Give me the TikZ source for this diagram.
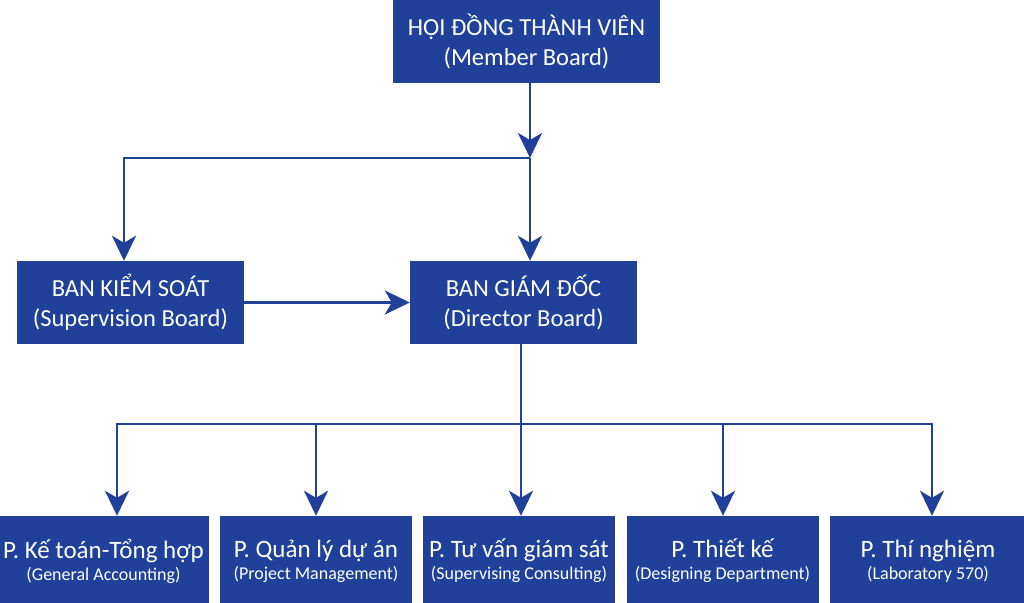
\documentclass[tikz,border=0pt]{standalone}
\usepackage{fontspec}
\setmainfont{Carlito}
\usetikzlibrary{arrows.meta}
\definecolor{boardblue}{RGB}{33,64,154}
\newcommand{\deptname}[1]{{\fontsize{25}{25}\selectfont #1}}

\begin{document}
\begin{tikzpicture}[x=1pt,y=-1pt,>={Stealth[length=25pt,width=24pt,inset=7pt]},
    board/.style={fill=boardblue,text=white,align=center,inner sep=0pt,minimum height=83pt,
      font=\fontsize{24.5}{30}\selectfont},
    dept/.style={fill=boardblue,text=white,align=center,inner sep=0pt,minimum height=90pt,
      minimum width=192pt,font=\fontsize{18}{22}\selectfont},
    conn/.style={draw=boardblue,line width=2.8pt}]
            \useasboundingbox (0,0) rectangle (1024,602);

            \node[board, minimum width=267pt] (hdtv) at (526.5,41.5) {HỘI ĐỒNG THÀNH VIÊN\\(Member Board)};
            \node[board, minimum width=227pt] (bks)  at (130.5,302.5) {BAN KIỂM SOÁT\\(Supervision Board)};
            \node[board, minimum width=227pt] (bgd)  at (523.5,302.5) {BAN GIÁM ĐỐC\\(Director Board)};

            \node[dept, minimum width=211pt] (ketoan)    at (103.5,561) {\deptname{P. Kế toán-Tổng hợp}\\(General Accounting)};
            \node[dept]                      (quanly)    at (316,561)   {\deptname{P. Quản lý dự án}\\(Project Management)};
            \node[dept]                      (tuvan)     at (519,561)   {\deptname{P. Tư vấn giám sát}\\(Supervising Consulting)};
            \node[dept]                      (thietke)   at (722.5,561) {\deptname{P. Thiết kế}\\(Designing Department)};
            \node[dept, minimum width=196pt] (thinghiem) at (928,561)   {\deptname{P. Thí nghiệm}\\(Laboratory 570)};

            \coordinate (split) at (530,158);
            \coordinate (fork)  at (521,424);

            \draw[conn,->] (hdtv.south -| split) -- (split);
            \draw[conn,->] (split) -| ([xshift=-6.5pt]bks.north);
            \draw[conn,->] (split) -- (split |- bgd.north);
            \draw[conn,->] (bks) -- (bgd);
            \draw[conn] (bgd.south -| fork) -- (fork);
            \foreach \d/\s in {ketoan/13.5,quanly/0,tuvan/2,thietke/0.5,thinghiem/4}
                \draw[conn,->] (fork) -| ([xshift=\s pt]\d.north);
        \end{tikzpicture}
\end{document}
